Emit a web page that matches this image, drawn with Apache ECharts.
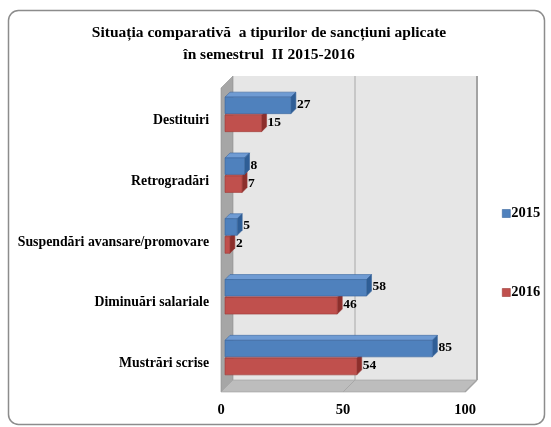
<!DOCTYPE html>
<html><head><meta charset="utf-8">
<script src="https://cdn.jsdelivr.net/npm/echarts@6/dist/echarts.min.js"></script>
<style>html,body{margin:0;padding:0;background:#fff}#c{width:551px;height:427px}</style>
</head><body><div id="c"></div>
<script>
const titleLines = ['Situația comparativă  a tipurilor de sancțiuni aplicate', 'în semestrul  II 2015-2016'];
const categories = ['Destituiri', 'Retrogradări', 'Suspendări avansare/promovare', 'Diminuări salariale', 'Mustrări scrise'];
const seriesNames = ['2015', '2016'];
const values2015 = [27, 8, 5, 58, 85];
const values2016 = [15, 7, 2, 46, 54];
const valueTicks = [0, 50, 100];

const FONT = '"Liberation Serif", "Times New Roman", serif';
const blue = {front: '#4f81bd', top: '#6f9bd3', side: '#2f5e96', edge: '#3a679e'};
const red = {front: '#c0504d', top: '#d4716e', side: '#8c2f2c', edge: '#9c3b38'};

function barRenderer(sign, col) {
  return function (params, api) {
    const v = api.value(0), c = api.value(1);
    const p0 = api.coord([0, c]);
    const p1 = api.coord([v, c]);
    const band = api.size([0, 1])[1];
    const h = band * 0.272;
    const cy = p0[1] + sign * band * 0.148;
    const y0 = cy - h / 2, y1 = cy + h / 2;
    const x0 = p0[0], x1 = p1[0];
    const d = 5;
    return {
      type: 'group',
      children: [
        {type: 'polygon', shape: {points: [[x0, y0], [x0 + d, y0 - d], [x1 + d, y0 - d], [x1, y0]]},
         style: {fill: col.top, stroke: col.edge, lineWidth: 0.6}},
        {type: 'polygon', shape: {points: [[x1, y0], [x1 + d, y0 - d], [x1 + d, y1 - d], [x1, y1]]},
         style: {fill: col.side, stroke: col.edge, lineWidth: 0.6}},
        {type: 'rect', shape: {x: x0, y: y0, width: x1 - x0, height: h},
         style: {fill: col.front, stroke: col.edge, lineWidth: 0.6}},
        {type: 'text', x: x1 + d + 1, y: cy - 1,
         style: {text: String(v), fill: '#000', font: 'bold 13.5px ' + FONT, align: 'left', verticalAlign: 'middle'}}
      ]
    };
  };
}

function wallsRenderer(params, api) {
  const g = params.coordSys;
  const F = -4, B = 8; // front / back offsets relative to bar plane
  const xl = g.x, xr = g.x + g.width, yt = g.y, yb = g.y + g.height;
  const children = [
    {type: 'rect', shape: {x: xl + B, y: yt - B, width: g.width, height: g.height},
     style: {fill: '#e6e6e6'}},
    {type: 'polygon', shape: {points: [[xl + F, yt - F], [xl + B, yt - B], [xl + B, yb - B], [xl + F, yb - F]]},
     style: {fill: '#a6a6a6', stroke: '#8f8f8f', lineWidth: 0.6}},
    {type: 'polygon', shape: {points: [[xl + F, yb - F], [xl + B, yb - B], [xr + B, yb - B], [xr + F, yb - F]]},
     style: {fill: '#bdbdbd', stroke: '#a0a0a0', lineWidth: 0.6}}
  ];
  valueTicks.forEach(function (t) {
    if (t === valueTicks[0]) return;
    const x = api.coord([t, 0])[0];
    const last = t === valueTicks[valueTicks.length - 1];
    children.push({type: 'line', shape: {x1: x + B, y1: yt - B, x2: x + B, y2: yb - B},
      style: {stroke: last ? '#a3a3a3' : '#a8a8a8', lineWidth: last ? 2 : 1}});
    children.push({type: 'line', shape: {x1: x + B, y1: yb - B, x2: x + F, y2: yb - F},
      style: {stroke: last ? '#a3a3a3' : '#a8a8a8', lineWidth: last ? 1.5 : 1}});
  });
  return {type: 'group', children: children};
}

const chart = echarts.init(document.getElementById('c'), null, {renderer: 'canvas'});
chart.setOption({
  animation: false,
  backgroundColor: '#fff',
  graphic: [{type: 'rect', z: -10, shape: {x: 8.5, y: 10.5, width: 536, height: 414, r: 10},
    style: {fill: '#fff', stroke: '#8c8c8c', lineWidth: 1.5}}],
  title: {
    text: titleLines.join('\n'), left: 269, top: 22, textAlign: 'center', padding: 0,
    textStyle: {fontFamily: FONT, fontWeight: 'bold', fontSize: 15.5, lineHeight: 22, color: '#000'}
  },
  legend: {
    orient: 'vertical', left: 497, top: 201, itemGap: 64, itemWidth: 8, itemHeight: 8, icon: 'rect',
    data: [
      {name: seriesNames[0], itemStyle: {color: blue.front, borderColor: blue.edge, borderWidth: 0.6}},
      {name: seriesNames[1], itemStyle: {color: red.front, borderColor: red.edge, borderWidth: 0.6}}
    ],
    textStyle: {fontFamily: FONT, fontWeight: 'bold', fontSize: 14.5, color: '#000', padding: [0, 0, 0, -4]},
    selectedMode: false
  },
  grid: {left: 225, top: 84, width: 244, height: 304, containLabel: false},
  xAxis: {
    type: 'value', min: valueTicks[0], max: valueTicks[valueTicks.length - 1], interval: 50,
    axisLine: {show: false}, axisTick: {show: false}, splitLine: {show: false},
    axisLabel: {margin: 15, padding: [0, 8, 0, 0], fontFamily: FONT, fontWeight: 'bold', fontSize: 14.5, color: '#000'}
  },
  yAxis: {
    type: 'category', data: categories, inverse: true,
    axisLine: {show: false}, axisTick: {show: false}, splitLine: {show: false},
    axisLabel: {margin: 16, verticalAlign: 'top', lineHeight: 12, fontFamily: FONT, fontWeight: 'bold', fontSize: 13.8, color: '#000'}
  },
  series: [
    {type: 'custom', name: 'walls', silent: true, z: 1, renderItem: wallsRenderer, data: [[0, 0]],
     encode: {x: 0, y: 1}, clip: false},
    {type: 'custom', name: seriesNames[1], z: 2, itemStyle: {color: red.front},
     renderItem: barRenderer(1, red), encode: {x: 0, y: 1},
     data: values2016.map(function (v, i) { return [v, i]; })},
    {type: 'custom', name: seriesNames[0], z: 3, itemStyle: {color: blue.front},
     renderItem: barRenderer(-1, blue), encode: {x: 0, y: 1},
     data: values2015.map(function (v, i) { return [v, i]; })}
  ]
});
</script></body></html>
